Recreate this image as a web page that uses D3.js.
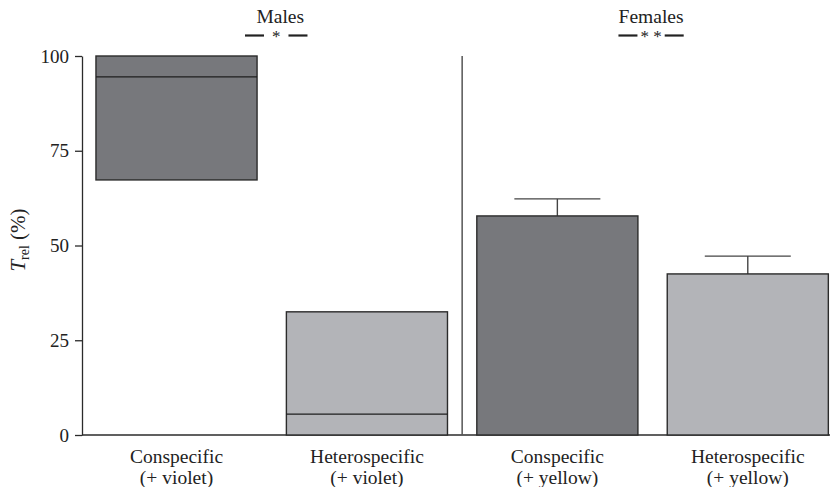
<!DOCTYPE html>
<html>
<head>
<meta charset="utf-8">
<script src="https://cdn.jsdelivr.net/npm/d3@7"></script>
<style>
  html, body { margin: 0; padding: 0; background: #fff; }
  text { font-family: "Liberation Serif", "Times New Roman", serif; fill: #222; }
</style>
</head>
<body>
<svg id="chart" width="832" height="487"></svg>
<script>
// Categories (two-line labels) and group membership
const categories = ["Conspecific|(+ violet)", "Heterospecific|(+ violet)", "Conspecific|(+ yellow)", "Heterospecific|(+ yellow)"];
const groupNames = ["Males", "Females"];
const significance = ["*", "* *"];

// Males: box (lower quartile, median, upper quartile)
const maleLower = [67.3, 0];
const maleMedian = [94.5, 5.5];
const maleUpper = [100, 32.5];

// Females: mean and upper error
const femaleMean = [57.8, 42.5];
const femaleError = [4.5, 4.7];

const yTicks = [0, 25, 50, 75, 100];
const fills = ["#77787c", "#b3b4b8", "#77787c", "#b3b4b8"];

const svg = d3.select("#chart");
const stroke = "#2b2b2b";

const y = d3.scaleLinear().domain([0, 100]).range([435, 56]);
const x = d3.scaleBand().domain(categories).range([81.3, 843]).paddingInner(0.154).paddingOuter(0.077);

// Y axis
const yAxis = d3.axisLeft(y).tickValues(yTicks).tickSize(7).tickSizeOuter(0).tickPadding(6);
const gy = svg.append("g").attr("transform", "translate(82,0)").call(yAxis);
gy.select(".domain").attr("stroke", stroke).attr("stroke-width", 1.3);
gy.selectAll(".tick line").attr("stroke", stroke).attr("stroke-width", 1.3);
gy.selectAll(".tick text").style("font-size", "19px").attr("fill", "#222").style("font-family", "Liberation Serif, serif");

// Baseline
svg.append("line").attr("x1", 82).attr("x2", 830).attr("y1", y(0)).attr("y2", y(0))
  .attr("stroke", stroke).attr("stroke-width", 1.3);

// Divider between sexes
const divX = (x(categories[1]) + x.bandwidth() + x(categories[2])) / 2;
svg.append("line").attr("x1", divX).attr("x2", divX).attr("y1", y(100)).attr("y2", y(0))
  .attr("stroke", "#555").attr("stroke-width", 1.5);

// Male boxes
const males = categories.slice(0, 2).map((c, i) => ({ c, lo: maleLower[i], med: maleMedian[i], hi: maleUpper[i], fill: fills[i] }));
const gm = svg.append("g");
gm.selectAll("rect").data(males).join("rect")
  .attr("x", d => x(d.c)).attr("width", x.bandwidth())
  .attr("y", d => y(d.hi)).attr("height", d => y(d.lo) - y(d.hi))
  .attr("fill", d => d.fill).attr("stroke", stroke).attr("stroke-width", 1.4);
gm.selectAll("line.med").data(males).join("line").attr("class", "med")
  .attr("x1", d => x(d.c)).attr("x2", d => x(d.c) + x.bandwidth())
  .attr("y1", d => y(d.med)).attr("y2", d => y(d.med))
  .attr("stroke", "#1e1e1e").attr("stroke-width", 1.4);

// Female bars with upward error bars
const females = categories.slice(2).map((c, i) => ({ c, m: femaleMean[i], e: femaleError[i], fill: fills[i + 2] }));
const gf = svg.append("g");
const capHalf = 43;
gf.selectAll("line.err").data(females).join("line").attr("class", "err")
  .attr("x1", d => x(d.c) + x.bandwidth() / 2).attr("x2", d => x(d.c) + x.bandwidth() / 2)
  .attr("y1", d => y(d.m)).attr("y2", d => y(d.m + d.e))
  .attr("stroke", "#444").attr("stroke-width", 1.4);
gf.selectAll("line.cap").data(females).join("line").attr("class", "cap")
  .attr("x1", d => x(d.c) + x.bandwidth() / 2 - capHalf).attr("x2", d => x(d.c) + x.bandwidth() / 2 + capHalf)
  .attr("y1", d => y(d.m + d.e)).attr("y2", d => y(d.m + d.e))
  .attr("stroke", "#444").attr("stroke-width", 1.4);
gf.selectAll("rect").data(females).join("rect")
  .attr("x", d => x(d.c)).attr("width", x.bandwidth())
  .attr("y", d => y(d.m)).attr("height", d => y(0) - y(d.m))
  .attr("fill", d => d.fill).attr("stroke", stroke).attr("stroke-width", 1.4);

// Category labels
const gl = svg.append("g");
categories.forEach(c => {
  const [l1, l2] = c.split("|");
  const cx = x(c) + x.bandwidth() / 2;
  const t = gl.append("text").attr("text-anchor", "middle").style("font-size", "19.5px");
  t.append("tspan").attr("x", cx).attr("y", 463).text(l1);
  t.append("tspan").attr("x", cx).attr("y", 484).text(l2);
});

// Group titles with significance markers
const titleShift = [8.5, -1.5];
groupNames.forEach((g, i) => {
  const a = x(categories[i * 2]) + x.bandwidth() / 2;
  const b = x(categories[i * 2 + 1]) + x.bandwidth() / 2;
  const cx = (a + b) / 2 + titleShift[i];
  svg.append("text").attr("x", cx).attr("y", 23).attr("text-anchor", "middle")
    .style("font-size", "19.5px").text(g);
  const star = svg.append("text").attr("x", cx - 4 * (1 - i)).attr("y", 42).attr("text-anchor", "middle")
    .style("font-size", "17px").text(significance[i]);
  const w = star.node().getComputedTextLength();
  const sx = cx - 4 * (1 - i);
  const gap = i === 0 ? 8 : 3;
  const len = 19;
  [-1, 1].forEach(s => {
    const inner = sx + s * (w / 2 + gap);
    svg.append("line").attr("x1", inner).attr("x2", inner + s * len)
      .attr("y1", 35.5).attr("y2", 35.5).attr("stroke", "#222").attr("stroke-width", 2.2);
  });
});

// Y axis title: T_rel (%)
const yt = svg.append("text").attr("transform", "translate(25,240) rotate(-90)")
  .attr("text-anchor", "middle").style("font-size", "21px");
yt.append("tspan").style("font-style", "italic").text("T");
yt.append("tspan").attr("dy", 4).style("font-size", "14px").text("rel");
yt.append("tspan").attr("dy", -4).text(" (%)");
</script>
</body>
</html>
